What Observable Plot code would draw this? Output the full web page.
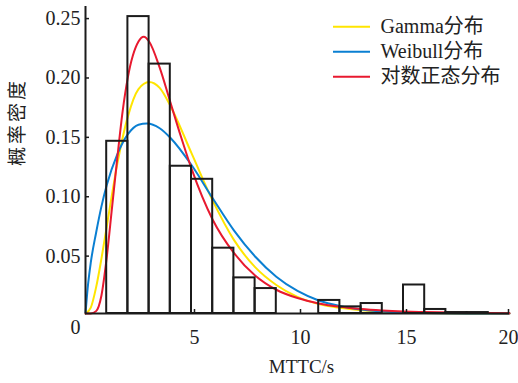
<!DOCTYPE html>
<html>
<head>
<meta charset="utf-8">
<script src="https://cdn.jsdelivr.net/npm/d3@7"></script>
<script src="https://cdn.jsdelivr.net/npm/@observablehq/plot@0.6"></script>
<style>
  html, body { margin: 0; padding: 0; background: #fff; }
  #chart { width: 518px; height: 383px; }
</style>
</head>
<body>
<div id="chart"></div>
<script>
// ---- data ----
const binStart = [1, 2, 3, 4, 5, 6, 7, 8, 11, 12, 13, 15, 16, 17, 18];
const binDensity = [0.145, 0.250, 0.210, 0.124, 0.113, 0.055, 0.030, 0.021, 0.011, 0.0056, 0.0084, 0.024, 0.0034, 0.0008, 0.0008];
const binWidth = 1;

const gammaX = [0, 0.25, 0.5, 0.75, 1.0, 1.5, 2.0, 2.5, 3.0, 3.5, 4.0, 5.0, 6.0, 7.0, 8.0, 9.0, 10.0, 11.0, 12.0, 13.0, 14.0, 15.0, 16.0, 18.0, 20.0];
const gammaY = [0, 0.005, 0.022, 0.046, 0.073, 0.126, 0.166, 0.189, 0.195, 0.190, 0.175, 0.135, 0.095, 0.062, 0.039, 0.024, 0.014, 0.008, 0.0048, 0.0027, 0.0015, 0.0008, 0.0004, 0.0001, 0];

const weibullX = [0, 0.1, 0.25, 0.5, 0.75, 1.0, 1.5, 2.0, 2.5, 2.9, 3.5, 4.0, 5.0, 6.0, 7.0, 8.0, 9.0, 10.0, 11.0, 12.0, 13.0, 14.0, 15.0, 16.0, 18.0, 20.0];
const weibullY = [0, 0.021, 0.043, 0.068, 0.090, 0.108, 0.134, 0.151, 0.159, 0.160, 0.156, 0.148, 0.125, 0.097, 0.070, 0.048, 0.031, 0.019, 0.011, 0.0063, 0.0034, 0.0017, 0.0008, 0.0004, 0.0001, 0];

const lognX = [0, 0.25, 0.5, 0.75, 1.0, 1.25, 1.5, 1.75, 2.0, 2.5, 2.75, 3.0, 3.5, 4.0, 4.5, 5.0, 6.0, 7.0, 8.0, 9.0, 10.0, 11.0, 12.0, 13.0, 14.0, 15.0, 16.0, 18.0, 20.0];
const lognY = [0, 0, 0.002, 0.015, 0.047, 0.089, 0.131, 0.170, 0.199, 0.229, 0.233, 0.229, 0.207, 0.178, 0.149, 0.122, 0.079, 0.051, 0.032, 0.020, 0.013, 0.0085, 0.0056, 0.0037, 0.0025, 0.0017, 0.0012, 0.0006, 0.0003];

const xTicks = [5, 10, 15];
const xTickLast = [20];
const yTicks = [0.05, 0.10, 0.15, 0.20, 0.25];
const zeroLabel = ["0"];
const xLabel = "MTTC/s";
const yLabel = "概率密度";
const seriesNames = ["Gamma分布", "Weibull分布", "对数正态分布"];
const seriesColors = ["#ffe500", "#0a7fd2", "#e8192f"];

// ---- build tables ----
const bars = binStart.map((s, i) => ({x1: s, x2: s + binWidth, y: binDensity[i]}));
const curves = [
  ...gammaX.map((x, i) => ({series: seriesNames[0], x, y: gammaY[i]})),
  ...weibullX.map((x, i) => ({series: seriesNames[1], x, y: weibullY[i]})),
  ...lognX.map((x, i) => ({series: seriesNames[2], x, y: lognY[i]}))
];

const serif = "'Liberation Serif', 'Times New Roman', 'Noto Sans CJK SC', serif";
const cjk = "'Noto Sans CJK SC', sans-serif";
const axisStyle = {tickSize: -4, fontSize: 20, stroke: "#1b1b1b", strokeWidth: 1.5, fill: "#222", label: null};

const chart = Plot.plot({
  width: 518,
  height: 383,
  marginLeft: 85,
  marginRight: 9,
  marginTop: 6,
  marginBottom: 70,
  style: {fontFamily: serif, background: "#fff", color: "#222"},
  x: {domain: [0, 20], axis: null},
  y: {domain: [0, 0.2585], axis: null},
  color: {domain: seriesNames, range: seriesColors},
  marks: [
    Plot.line(curves, {x: "x", y: "y", z: "series", stroke: "series", strokeWidth: 2, curve: "monotone-x"}),
    Plot.rectY(bars, {x1: "x1", x2: "x2", y: "y", fill: "none", stroke: "#1b1b1b", strokeWidth: 2}),
    Plot.ruleX([0], {stroke: "#1b1b1b", strokeWidth: 2}),
    Plot.ruleY([0], {stroke: "#1b1b1b", strokeWidth: 2}),
    Plot.axisY(yTicks, {...axisStyle, anchor: "left", tickPadding: 9, tickFormat: d => d.toFixed(2), dy: 2}),
    Plot.axisX(xTicks, {...axisStyle, anchor: "bottom", tickPadding: 20, tickFormat: d => String(d), dx: 3}),
    Plot.axisX(xTickLast, {...axisStyle, anchor: "bottom", tickPadding: 20, tickFormat: d => String(d), dx: -1}),
    Plot.text(zeroLabel, {x: () => 0, y: () => 0, text: d => d, dx: -10, dy: 14, fontSize: 20, fill: "#222"}),
    Plot.text([xLabel], {frameAnchor: "bottom", text: d => d, dx: 4, dy: 59, fontSize: 19, fill: "#222"}),
    Plot.text([yLabel], {frameAnchor: "left", text: d => d, dx: -68, dy: 6, rotate: -90, fontSize: 19, fill: "#222", fontFamily: cjk}),
    // legend text block (top right of the frame)
    Plot.text([seriesNames.join("\n")], {frameAnchor: "top-left", text: d => d, textAnchor: "start", lineAnchor: "middle",
      lineHeight: 1.25, dx: 295, dy: 43, fontSize: 20, fill: "#222", fontFamily: serif})
  ]
});

// letter spacing on the y label
d3.select(chart).selectAll("text").filter(function() { return this.textContent === yLabel; })
  .style("letter-spacing", "3px");

// legend swatches
const svg = d3.select(chart);
const lg = svg.append("g");
seriesNames.forEach((name, i) => {
  const yy = 26.7 + i * 25;
  lg.append("line").attr("x1", 333).attr("x2", 370).attr("y1", yy).attr("y2", yy)
    .attr("stroke", seriesColors[i]).attr("stroke-width", 2);
});

document.getElementById("chart").appendChild(chart);
</script>
</body>
</html>
